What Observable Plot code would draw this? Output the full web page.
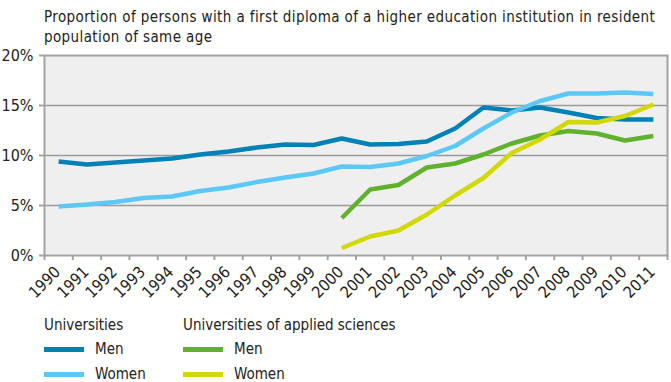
<!DOCTYPE html>
<html>
<head>
<meta charset="utf-8">
<script src="https://cdn.jsdelivr.net/npm/d3@7"></script>
<script src="https://cdn.jsdelivr.net/npm/@observablehq/plot@0.6"></script>
<style>
  html, body { margin: 0; padding: 0; background: #fff; }
  body { position: relative; width: 671px; height: 382px; overflow: hidden;
         font-family: "Liberation Sans Narrow", "DejaVu Sans Condensed", "Liberation Sans", sans-serif; color: #222; }
  #title { position: absolute; left: 44px; top: 7px; font-size: 15px; line-height: 20px; width: 620px; letter-spacing: 0.4px; }
  #chart { position: absolute; left: 0; top: 46px; }
  .lg { position: absolute; font-size: 15px; line-height: 18px; white-space: nowrap; }
  .sw { position: absolute; width: 40px; height: 5px; }
</style>
</head>
<body>
<div id="title">Proportion of persons with a first diploma of a higher education institution in resident<br>population of same age</div>
<div id="chart"></div>
<div id="legend"></div>
<script>
const years = [1990,1991,1992,1993,1994,1995,1996,1997,1998,1999,2000,2001,2002,2003,2004,2005,2006,2007,2008,2009,2010,2011];
const uniMen   = [9.4,9.1,9.3,9.5,9.7,10.1,10.4,10.8,11.1,11.05,11.7,11.1,11.15,11.4,12.7,14.8,14.5,14.8,14.3,13.75,13.6,13.6];
const uniWomen = [4.9,5.1,5.35,5.75,5.9,6.45,6.8,7.35,7.8,8.2,8.9,8.85,9.2,9.95,10.95,12.7,14.3,15.45,16.2,16.2,16.3,16.15];
const uasYears = [2000,2001,2002,2003,2004,2005,2006,2007,2008,2009,2010,2011];
const uasMen   = [3.75,6.6,7.05,8.8,9.2,10.1,11.2,12.0,12.45,12.2,11.5,11.95];
const uasWomen = [0.75,1.9,2.5,4.1,6.0,7.75,10.25,11.6,13.35,13.3,13.95,15.1];
const yTicks = [0,5,10,15,20];
const seriesNames = ["Universities – Men","Universities – Women","Universities of applied sciences – Men","Universities of applied sciences – Women"];
const colors = ["#0082b6","#5cc8f5","#60b22e","#d2d800"];

const rows = [];
years.forEach((y,i) => rows.push({year: y, value: uniMen[i], s: seriesNames[0]}));
years.forEach((y,i) => rows.push({year: y, value: uniWomen[i], s: seriesNames[1]}));
uasYears.forEach((y,i) => rows.push({year: y, value: uasMen[i], s: seriesNames[2]}));
uasYears.forEach((y,i) => rows.push({year: y, value: uasWomen[i], s: seriesNames[3]}));

const boundaries = years.map(y => y - 0.5).concat([years[years.length-1] + 0.5]);

const plot = Plot.plot({
  width: 671,
  height: 264,
  marginTop: 9,
  marginBottom: 55,
  marginLeft: 44,
  marginRight: 4,
  style: {fontFamily: '"Liberation Sans Narrow", "DejaVu Sans Condensed", "Liberation Sans", sans-serif', color: "#222", background: "transparent"},
  x: {domain: [years[0] - 0.5, years[years.length-1] + 0.5]},
  y: {domain: [0, 20]},
  color: {domain: seriesNames, range: colors},
  marks: [
    Plot.frame({fill: "#efefef", stroke: "none"}),
    Plot.gridY([5,10,15], {stroke: "#9a9a9a", strokeOpacity: 1, strokeWidth: 1.5}),
    Plot.frame({stroke: "#a3a3a3", strokeWidth: 2}),
    Plot.axisY(yTicks, {tickFormat: d => d + "%", tickSize: 5, tickPadding: 6, fontSize: 16, stroke: "#a3a3a3", strokeWidth: 2, fill: "#222", label: null}),
    Plot.axisX(boundaries, {tickSize: 5, tickFormat: () => "", stroke: "#a3a3a3", strokeWidth: 2, label: null}),
    Plot.axisX(years, {tickSize: 0, tickPadding: 14, tickRotate: -45, dx: -1, tickFormat: d => String(d), fontSize: 16, fill: "#222", label: null}),
    Plot.line(rows, {x: "year", y: "value", z: "s", stroke: "s", strokeWidth: 4.5, strokeLinejoin: "miter", strokeLinecap: "butt"})
  ]
});
document.getElementById("chart").appendChild(plot);

const legend = document.getElementById("legend");
const groups = [
  {title: "Universities", x: 44, items: [[seriesNames[0], "Men"], [seriesNames[1], "Women"]]},
  {title: "Universities of applied sciences", x: 183, items: [[seriesNames[2], "Men"], [seriesNames[3], "Women"]]}
];
const color = plot.scale("color");
groups.forEach(g => {
  const t = document.createElement("div");
  t.className = "lg"; t.textContent = g.title;
  t.style.left = g.x + "px"; t.style.top = "316px";
  legend.appendChild(t);
  g.items.forEach(([s, lab], j) => {
    const sw = document.createElement("div");
    sw.className = "sw";
    sw.style.left = g.x + "px"; sw.style.top = (347 + j * 25) + "px";
    sw.style.background = color.apply(s);
    legend.appendChild(sw);
    const l = document.createElement("div");
    l.className = "lg"; l.textContent = lab;
    l.style.left = (g.x + 51) + "px"; l.style.top = (340 + j * 25) + "px";
    legend.appendChild(l);
  });
});
</script>
</body>
</html>
